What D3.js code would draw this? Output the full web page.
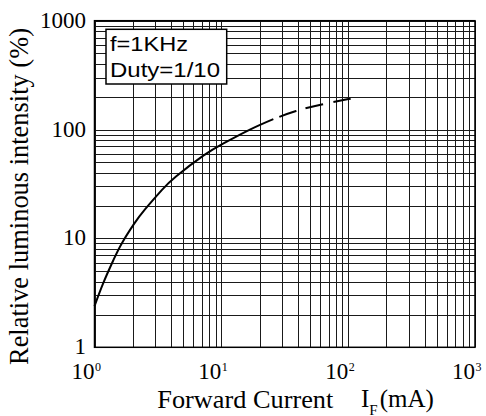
<!DOCTYPE html>
<html>
<head>
<meta charset="utf-8">
<script src="https://cdn.jsdelivr.net/npm/d3@7"></script>
<style>
  html, body { margin: 0; padding: 0; background: #fff; }
  svg { display: block; }
</style>
</head>
<body>
<svg id="chart" width="486" height="416"></svg>
<script>
// ---- data ----
const xTickValues = [1, 10, 100, 1000];
const xTickExponents = ["0", "1", "2", "3"];
const yTickValues = [1, 10, 100, 1000];
const yTickLabels = ["1", "10", "100", "1000"];

// solid part of curve: forward current (mA) vs relative luminous intensity (%)
const solidCurrent   = [1.0, 1.17, 1.41, 1.64, 2.05, 2.50, 3.39, 4.39, 7.21, 10.4, 16.8, 25.7];
const solidIntensity = [2.39, 3.87, 6.33, 9.0, 13.6, 18.5, 27.8, 37.1, 57.6, 74.7, 100, 124.8];
// dashed (extrapolated) part
const dashedCurrent   = [25.7, 38.8, 61.9, 100.4, 128];
const dashedIntensity = [124.8, 148, 170, 190.6, 200];

const legendLines = ["f=1KHz", "Duty=1/10"];
const xTitle = "Forward Current";
const yTitle = "Relative luminous intensity (%)";

// ---- layout ----
const svg = d3.select("#chart");
const pLeft = 94.5, pRight = 475, pTop = 20.7, pBottom = 347.3;

const x = d3.scaleLog().domain([1, 1000]).range([pLeft, pRight]);
const y = d3.scaleLog().domain([1, 1000]).range([pBottom, pTop]);

// grid lines at 1..9 of each decade
const gridVals = [];
for (let d = 1; d < 1000; d *= 10) for (let m = 1; m <= 9; m++) gridVals.push(d * m);
gridVals.push(1000);

const grid = svg.append("g").attr("stroke", "#1a1a1a").attr("stroke-width", 1)
  .attr("shape-rendering", "crispEdges");
grid.selectAll("line.v").data(gridVals).join("line").attr("class", "v")
  .attr("x1", d => Math.round(x(d)) + 0.5).attr("x2", d => Math.round(x(d)) + 0.5)
  .attr("y1", pTop).attr("y2", pBottom);
grid.selectAll("line.h").data(gridVals).join("line").attr("class", "h")
  .attr("y1", d => Math.round(y(d)) + 0.5).attr("y2", d => Math.round(y(d)) + 0.5)
  .attr("x1", pLeft).attr("x2", pRight);

// frame
svg.append("rect").attr("x", pLeft).attr("y", pTop)
  .attr("width", pRight - pLeft).attr("height", pBottom - pTop)
  .attr("fill", "none").attr("stroke", "#000").attr("stroke-width", 1.5);

// curve
const line = d3.line().x(d => x(d[0])).y(d => y(d[1])).curve(d3.curveNatural);
svg.append("path")
  .datum(d3.zip(solidCurrent, solidIntensity))
  .attr("d", line).attr("fill", "none").attr("stroke", "#000").attr("stroke-width", 2);
svg.append("path")
  .datum(d3.zip(dashedCurrent, dashedIntensity))
  .attr("d", line).attr("fill", "none").attr("stroke", "#000").attr("stroke-width", 2)
  .attr("stroke-dasharray", "0,6.5,18,9.5,18,10.5,17.5,13.5,2,60");

// legend box
const lg = svg.append("g");
lg.append("rect").attr("x", 106).attr("y", 29.3).attr("width", 120.7).attr("height", 54.7)
  .attr("fill", "#fff").attr("stroke", "#000").attr("stroke-width", 1.5);
const legendTextLen = [78, 110];
lg.selectAll("text").data(legendLines).join("text")
  .attr("x", 110).attr("y", (d, i) => 50.7 + i * 26.6)
  .attr("font-family", "'Liberation Sans', Arial, sans-serif").attr("font-size", 20)
  .attr("textLength", (d, i) => legendTextLen[i]).attr("lengthAdjust", "spacingAndGlyphs")
  .text(d => d);

// x tick labels: 10 with superscript exponent
const serif = "'Liberation Serif', 'Times New Roman', serif";
const xl = svg.append("g").attr("font-family", serif).attr("fill", "#000");
xTickValues.forEach((v, i) => {
  xl.append("text").attr("x", x(v)).attr("y", 379.3).attr("text-anchor", "end")
    .attr("font-size", 23).text("10");
  xl.append("text").attr("x", x(v) + 0.5).attr("y", 371).attr("text-anchor", "start")
    .attr("font-size", 12).text(xTickExponents[i]);
});

// y tick labels
const yl = svg.append("g").attr("font-family", serif).attr("fill", "#000");
yTickValues.forEach((v, i) => {
  yl.append("text").attr("x", 86).attr("y", y(v) + 7).attr("text-anchor", "end")
    .attr("font-size", 23).text(yTickLabels[i]);
});

// axis titles
svg.append("text").attr("x", 157.3).attr("y", 408.3)
  .attr("font-family", serif).attr("font-size", 25)
  .attr("textLength", 176).attr("lengthAdjust", "spacingAndGlyphs")
  .text(xTitle);
const unit = svg.append("text").attr("x", 361).attr("y", 406.5)
  .attr("font-family", serif).attr("font-size", 25);
unit.append("tspan").text("I");
unit.append("tspan").attr("font-size", 15).attr("dy", 8).text("F");
unit.append("tspan").attr("dy", -8).attr("dx", 2).text("(mA)");

svg.append("text")
  .attr("transform", "translate(28,196.5) rotate(-90)")
  .attr("text-anchor", "middle")
  .attr("font-family", serif).attr("font-size", 26.5)
  .attr("textLength", 337).attr("lengthAdjust", "spacingAndGlyphs")
  .text(yTitle);
</script>
</body>
</html>
